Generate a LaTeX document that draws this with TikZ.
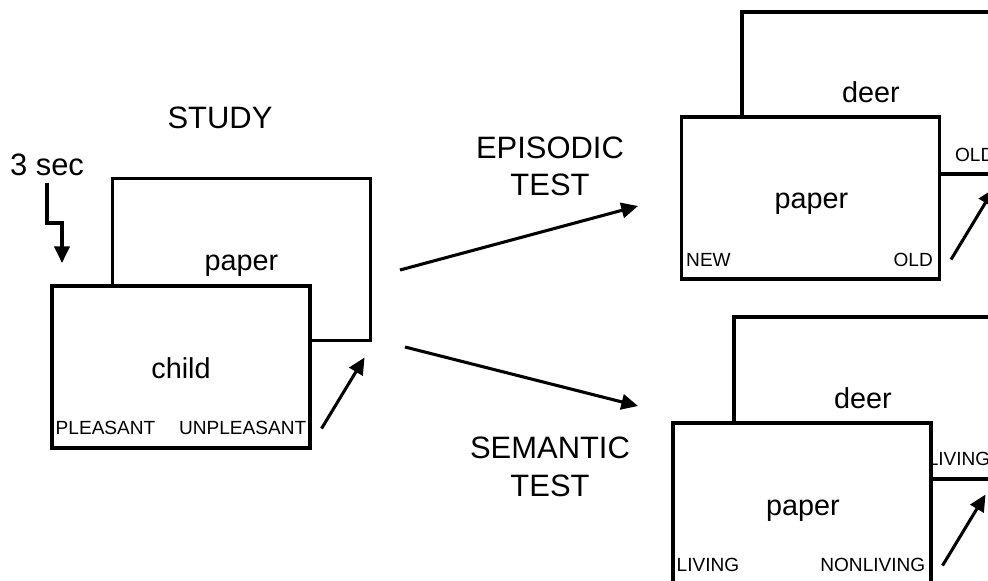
\documentclass[tikz,border=0pt]{standalone}
\usepackage{fontspec}
\setmainfont{Liberation Sans}
\usetikzlibrary{arrows.meta,calc}
\begin{document}
\begin{tikzpicture}[x=0.75pt,y=-0.75pt,
 card/.style={draw,fill=white,line width=2.3pt,minimum width=193.5pt,minimum height=121.5pt,inner sep=0pt},
 word/.style={font=\fontsize{21.6}{24}\selectfont,inner sep=0pt,anchor=base},
 head/.style={font=\fontsize{23.2}{26}\selectfont,inner sep=0pt},
 lab/.style={font=\fontsize{14.3}{16}\selectfont,inner sep=0pt},
 arr/.style={line width=2.3pt,line join=miter,-{Triangle[length=12.5pt,width=11.5pt]}}
]
\useasboundingbox (0,0) rectangle (988,581);
\clip (0,0) rectangle (988,581);
% headings
\node[head] (study) at (220,118) {STUDY};
\node[head] (sec) at (47,165) {3 sec};
\node[head] (epi1) at (550,148) {EPISODIC};
\node[head] (epi2) at (550,185) {TEST};
\node[head] (sem1) at (550,448) {SEMANTIC};
\node[head] (sem2) at (550,486) {TEST};
% study cards
\node[card] (sb) at (241.5,259.5) {};
\node[word] (sbw) at ($(sb.center)+(0,11)$) {paper};
\node[card] (sf) at (181,367) {};
\node[word] (sfw) at ($(sf.center)+(0,11)$) {child};
\node[lab,anchor=west] (sfl) at ($(sf.south west)+(5,-22)$) {PLEASANT};
\node[lab,anchor=east] (sfr) at ($(sf.south east)+(-5,-22)$) {UNPLEASANT};
% episodic cards
\node[card] (eb) at (871,93) {};
\node[word] (ebw) at ($(eb.center)+(0,10)$) {deer};
\node[lab,anchor=east] (ebr) at ($(eb.south east)+(-7,-21)$) {OLD};
\node[card] (ef) at (810.5,198) {};
\node[word] (efw) at ($(ef.center)+(1,11)$) {paper};
\node[lab,anchor=west] (efl) at ($(ef.south west)+(6,-21)$) {NEW};
\node[lab,anchor=east] (efr) at ($(ef.south east)+(-8,-21)$) {OLD};
% semantic cards
\node[card] (mb) at (863,398) {};
\node[word] (mbw) at ($(mb.center)+(0,10)$) {deer};
\node[lab,anchor=east] (mbr) at ($(mb.south east)+(-3,-22)$) {NONLIVING};
\node[card] (mf) at (802,504) {};
\node[word] (mfw) at ($(mf.center)+(1,11)$) {paper};
\node[lab,anchor=west] (mfl) at ($(mf.south west)+(5,-22)$) {LIVING};
\node[lab,anchor=east] (mfr) at ($(mf.south east)+(-7,-22)$) {NONLIVING};
% small arrows
\coordinate (sa0) at ($(sf.south east)+(10,-21)$);
\coordinate (sa1) at ($(sf.south east)+(53,-92)$);
\draw[arr] (sa0) -- (sa1);
\coordinate (ea0) at ($(ef.south east)+(10,-21)$);
\coordinate (ea1) at ($(ef.south east)+(53,-92)$);
\draw[arr] (ea0) -- (ea1);
\coordinate (ma0) at ($(mf.south east)+(10,-21)$);
\coordinate (ma1) at ($(mf.south east)+(53,-92)$);
\draw[arr] (ma0) -- (ma1);
% zigzag
\coordinate (z0) at (47,183);
\coordinate (zt) at (62,263);
\draw[arr] (z0) -- ++(0,40) -- ++(15,0) -- (zt);
% big arrows
\coordinate (b0) at (400,270);
\coordinate (b1) at (638,206);
\draw[arr] (b0) -- (b1);
\coordinate (c0) at (405,347);
\coordinate (c1) at (638,406);
\draw[arr] (c0) -- (c1);
\end{tikzpicture}
\end{document}
